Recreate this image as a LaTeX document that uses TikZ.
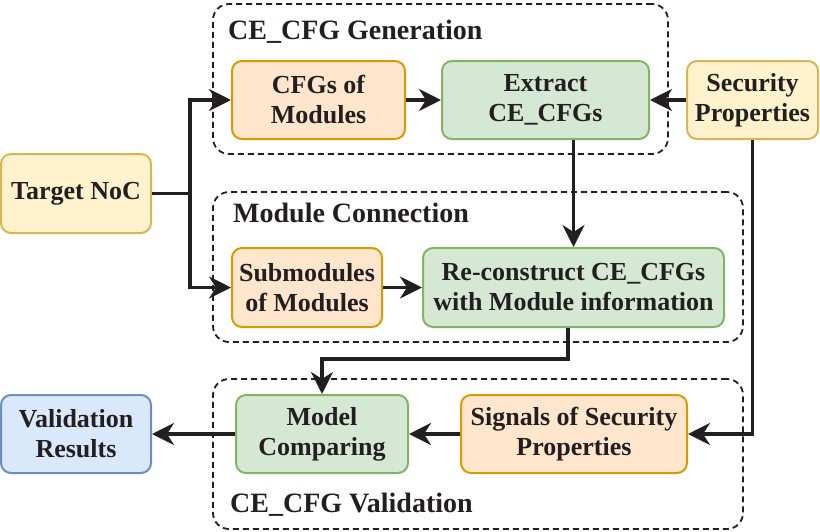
\documentclass[tikz,border=0pt]{standalone}
\usepackage{fontspec}
\setmainfont{Liberation Serif}
\usetikzlibrary{arrows.meta}
\definecolor{ink}{HTML}{231F20}
\definecolor{orfill}{HTML}{FFE6CC}\definecolor{ordraw}{HTML}{D79B00}
\definecolor{grfill}{HTML}{D5E8D4}\definecolor{grdraw}{HTML}{82B366}
\definecolor{yefill}{HTML}{FFF2CC}\definecolor{yedraw}{HTML}{D6B656}
\definecolor{blfill}{HTML}{DAE8FC}\definecolor{bldraw}{HTML}{6C8EBF}
\tikzset{
  box/.style={rectangle, rounded corners=10pt, line width=2pt, align=center, text=ink,
    inner sep=0pt, font=\fontsize{26}{30}\selectfont\bfseries},
  orbox/.style={box, fill=orfill, draw=ordraw},
  grbox/.style={box, fill=grfill, draw=grdraw},
  yebox/.style={box, fill=yefill, draw=yedraw},
  blbox/.style={box, fill=blfill, draw=bldraw},
  group/.style={rectangle, rounded corners=16pt, draw=ink, line width=1.8pt, dash pattern=on 6pt off 4pt, inner sep=0pt},
  title/.style={anchor=base west, text=ink, inner sep=0pt, font=\fontsize{28}{32}\selectfont\bfseries},
  conn/.style={draw=ink, line width=3.6pt, -{Stealth[length=22pt,width=22pt,inset=7pt]}},
  plain/.style={draw=ink, line width=3.6pt}
}
\begin{document}
\begin{tikzpicture}[x=1pt,y=1pt]
\useasboundingbox (0,0) rectangle (820,-531);
% groups
\node[group, minimum width=455pt, minimum height=150pt] (g1) at (440.5,-79) {};
\node[group, minimum width=530pt, minimum height=150pt] (g2) at (478,-267) {};
\node[group, minimum width=530pt, minimum height=150pt] (g3) at (478,-454) {};
\node[title] (t1) at (228,-39) {CE\_CFG Generation};
\node[title] (t2) at (233,-222) {Module Connection};
\node[title] (t3) at (230,-512) {CE\_CFG Validation};
% boxes
\node[orbox, minimum width=173pt, minimum height=78pt] (cfg) at (318.5,-100) {CFGs of\\Modules};
\node[grbox, minimum width=207pt, minimum height=78pt] (ext) at (545.5,-100) {Extract\\CE\_CFGs};
\node[yebox, minimum width=131pt, minimum height=78pt] (sec) at (752.5,-100) {Security\\Properties};
\node[yebox, minimum width=150pt, minimum height=79pt] (tgt) at (76,-193.5) {Target NoC};
\node[orbox, minimum width=150pt, minimum height=79pt] (sub) at (307,-287.5) {Submodules\\of Modules};
\node[grbox, minimum width=301pt, minimum height=79pt] (rec) at (573.5,-287.5) {Re-construct CE\_CFGs\\with Module information};
\node[blbox, minimum width=150pt, minimum height=78pt] (val) at (76,-434) {Validation\\Results};
\node[grbox, minimum width=172pt, minimum height=78pt] (mod) at (322,-434) {Model\\Comparing};
\node[orbox, minimum width=226pt, minimum height=78pt] (sig) at (574,-434) {Signals of Security\\Properties};
% connectors
\coordinate (jn) at (190,-193.5);
\draw[plain] (tgt.east) -- (jn);
\draw[conn] (jn) |- (cfg.west);
\draw[conn] (jn) |- (sub.west);
\draw[conn] (cfg.east) -- (ext.west);
\draw[conn] (sec.west) -- (ext.east);
\draw[conn] (ext.south -| rec.north) -- (rec.north);
\draw[conn] (sub.east) -- (rec.west);
\coordinate (rb) at (568,-359);
\draw[conn] (rec.south -| rb) -- (rb) -| (mod.north);
\draw[conn] (sec.south) |- (sig.east);
\draw[conn] (sig.west) -- (mod.east);
\draw[conn] (mod.west) -- (val.east);
\end{tikzpicture}
\end{document}
